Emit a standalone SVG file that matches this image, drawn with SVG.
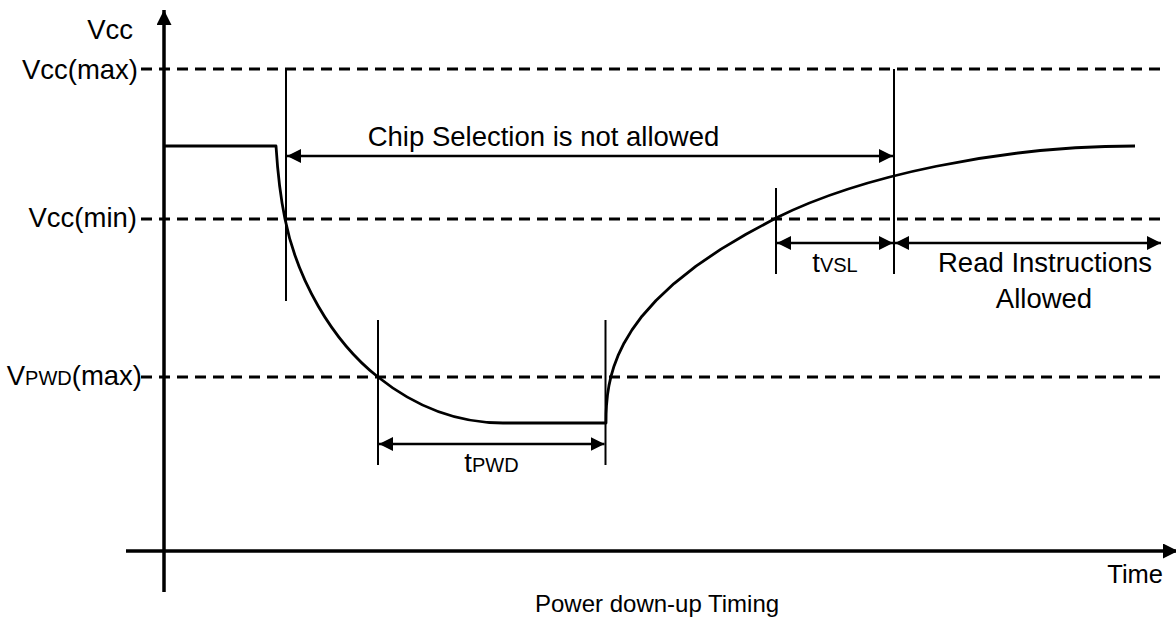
<svg xmlns="http://www.w3.org/2000/svg" width="1176" height="617" viewBox="0 0 1176 617">
<style>
text{font-family:"Liberation Sans",Arial,sans-serif;fill:#000}
.lbl{font-size:27.5px}
.sub{font-size:20px}
.dash{stroke:#000;stroke-width:3;stroke-dasharray:11 7;fill:none}
.mark{stroke:#000;stroke-width:2;fill:none}
.dim{stroke:#000;stroke-width:2.5;fill:none;marker-start:url(#ah);marker-end:url(#ah)}
.axis{stroke:#000;stroke-width:3.5;fill:none}
.wave{stroke:#000;stroke-width:2.8;fill:none;stroke-linejoin:round}
</style>
<defs>
<marker id="ah" viewBox="0 0 14 14" refX="14" refY="7" markerWidth="14" markerHeight="14" markerUnits="userSpaceOnUse" orient="auto-start-reverse">
<path d="M0,0 L14,7 L0,14 Z" fill="#000"/>
</marker>
<marker id="axh" viewBox="0 0 15 15" refX="15" refY="7.5" markerWidth="15" markerHeight="15" markerUnits="userSpaceOnUse" orient="auto">
<path d="M0,0 L15,7.5 L0,15 Z" fill="#000"/>
</marker>
</defs>
<rect width="1176" height="617" fill="#fff"/>

<g id="axes">
<line class="axis" x1="164" y1="592" x2="164" y2="10" marker-end="url(#axh)"/>
<line class="axis" x1="126" y1="551" x2="1178" y2="551" marker-end="url(#axh)"/>
</g>

<g id="levels">
<line class="dash" x1="141" y1="69" x2="1160" y2="69"/>
<line class="dash" x1="141" y1="219" x2="1160" y2="219"/>
<line class="dash" x1="141" y1="377" x2="1160" y2="377"/>
</g>

<g id="labels">
<text class="lbl" x="133" y="39" text-anchor="end">Vcc</text>
<text class="lbl" x="138" y="79" text-anchor="end">Vcc(max)</text>
<text class="lbl" x="137" y="227" text-anchor="end">Vcc(min)</text>
<text class="lbl" x="142" y="385" text-anchor="end">V<tspan class="sub">PWD</tspan>(max)</text>
<text style="font-size:25.5px" x="1163" y="583" text-anchor="end">Time</text>
<text style="font-size:24px" x="535" y="612">Power down-up Timing</text>
</g>

<g id="waveform">
<path class="wave" d="M165,146 L276,146 C277.5,170 280,195 285,219 C296.8,277.8 331,340 378,377 C413,405 453,423 503,423 L606,423 L606.1,414 L606.5,405.3 L607.5,394.9 L609,385.4 L611,376.4 L614,366.2 L618,355.7 L624,343.2 L632,329.9 L642,316.2 L656,300.5 L674,283.6 L696,266.1 L721,249.1 L746,234.2 L776,218 C860,176 1000,146 1135,146"/>
</g>

<g id="markers">
<line class="mark" x1="286" y1="69" x2="286" y2="301"/>
<line class="mark" x1="894" y1="69" x2="894" y2="274"/>
<line class="mark" x1="776" y1="188" x2="776" y2="274"/>
<line class="mark" x1="378" y1="320" x2="378" y2="465"/>
<line class="mark" x1="605.5" y1="320" x2="605.5" y2="465"/>
</g>

<g id="connectors">
<line class="dim" x1="287" y1="156" x2="893" y2="156"/>
<line class="dim" x1="379" y1="444" x2="604.5" y2="444"/>
<line class="dim" x1="777" y1="243" x2="893" y2="243"/>
<line class="dim" x1="895" y1="243" x2="1161" y2="243"/>
</g>

<g id="chip-label">
<text class="lbl" x="543.5" y="146" text-anchor="middle">Chip Selection is not allowed</text>
</g>
<g id="tpwd-label">
<text class="lbl" x="491.5" y="472" text-anchor="middle">t<tspan class="sub">PWD</tspan></text>
</g>
<g id="tvsl-label">
<text class="lbl" x="835" y="272" text-anchor="middle">t<tspan class="sub">VSL</tspan></text>
</g>
<g id="read-label">
<text class="lbl" x="1045" y="272" text-anchor="middle">Read Instructions</text>
<text class="lbl" x="1044" y="308" text-anchor="middle">Allowed</text>
</g>
</svg>
